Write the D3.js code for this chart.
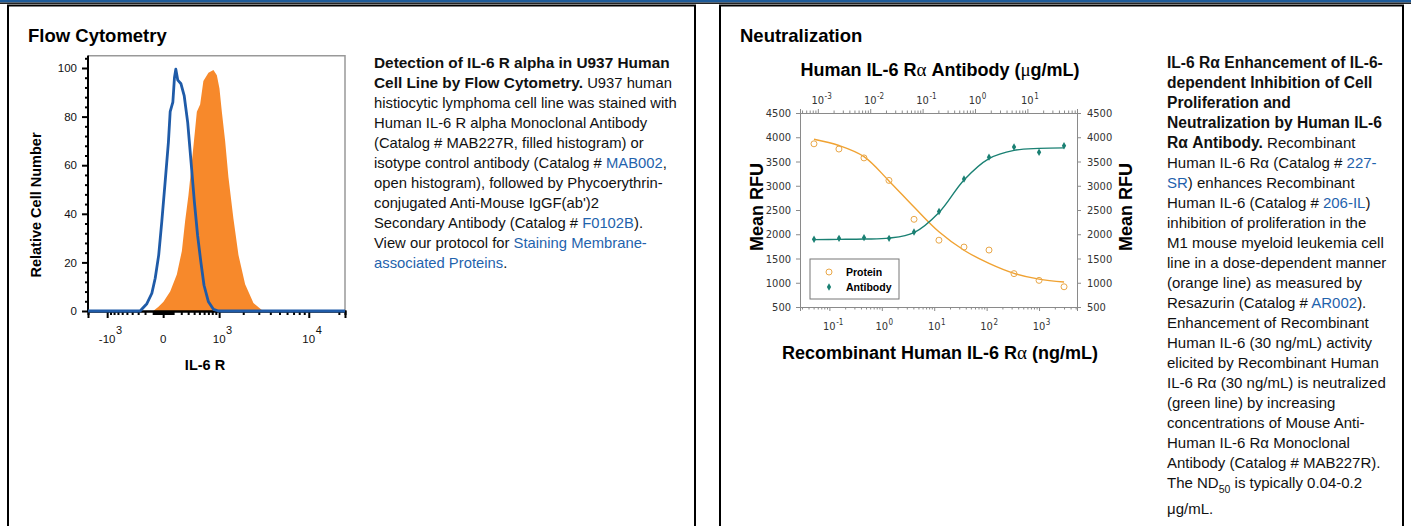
<!DOCTYPE html>
<html>
<head>
<meta charset="utf-8">
<script src="https://cdn.jsdelivr.net/npm/d3@7"></script>
<style>
  body { margin: 0; background: #fff; }
  svg { display: block; font-family: "Liberation Sans", Arial, sans-serif; }
  text { white-space: pre; }
  .narrow { font-family: "Liberation Sans Narrow", "DejaVu Sans Condensed", "Arial Narrow", sans-serif; fill: #333; }
</style>
</head>
<body>
<div id="chart"></div>
<script>
// ---------- Flow cytometry data (fluorescence intensity, relative cell number) ----------
const isotypeX = [-1750, -270, -176, -115, -78, -42, -12, 18, 50, 68, 97, 115, 131, 155, 196, 241, 293, 348, 404, 465, 531, 598, 702, 832, 980, 23000];
const isotypeY = [0, 0, 3, 7.3, 13.5, 23, 37, 53, 69.5, 82, 86, 96, 99.5, 95, 93.5, 88.5, 77.5, 61, 45, 31, 20, 10.6, 3.8, 0.7, 0, 0];
const stainedX = [-1750, -100, -44, 3, 68, 143, 208, 254, 305, 359, 419, 450, 515, 584, 702, 832, 930, 1010, 1087, 1201, 1324, 1528, 1757, 2104, 2616, 3239, 3800, 23000];
const stainedY = [0, 0, 1.8, 3.8, 8, 15, 24.7, 37, 47.7, 61, 75, 82, 85, 94.7, 98, 99.2, 97, 91.6, 82, 70, 55, 38, 23, 11, 3.3, 0.4, 0, 0];
const flowYTicks = [0, 20, 40, 60, 80, 100];
const flowXTicks = [-1000, 0, 1000, 10000];
const flowXLabels = [["-10", "3"], ["0", ""], ["10", "3"], ["10", "4"]];

// ---------- Neutralization data ----------
const proteinConc = [0.0508, 0.152, 0.457, 1.37, 4.12, 12.3, 37.0, 111, 333, 1000, 3000];      // ng/mL
const proteinRFU = [3865, 3757, 3574, 3110, 2308, 1877, 1736, 1674, 1188, 1049, 917];
const proteinFit = [3960, 3830, 3600, 3100, 2560, 2050, 1670, 1400, 1195, 1075, 1015];
const antibodyConc = [0.000847, 0.00254, 0.00762, 0.0229, 0.0686, 0.206, 0.617, 1.85, 5.56, 16.7, 50]; // ug/mL
const antibodyRFU = [1895, 1915, 1930, 1915, 2045, 2470, 3140, 3590, 3800, 3690, 3825];
const antibodyFit = [1890, 1895, 1902, 1920, 2035, 2450, 3120, 3560, 3730, 3770, 3780];
const rfuTicks = [500, 1000, 1500, 2000, 2500, 3000, 3500, 4000, 4500];
const topExps = [-3, -2, -1, 0, 1];
const bottomExps = [-1, 0, 1, 2, 3];

// ---------- captions ----------
const flowCaption = [
  [["b", "Detection of IL-6 R alpha in U937 Human"]],
  [["b", "Cell Line by Flow Cytometry."], ["n", " U937 human"]],
  [["n", "histiocytic lymphoma cell line was stained with"]],
  [["n", "Human IL-6 R alpha Monoclonal Antibody"]],
  [["n", "(Catalog # MAB227R, filled histogram) or"]],
  [["n", "isotype control antibody (Catalog # "], ["a", "MAB002"], ["n", ","]],
  [["n", "open histogram), followed by Phycoerythrin-"]],
  [["n", "conjugated Anti-Mouse IgGF(ab')2"]],
  [["n", "Secondary Antibody (Catalog # "], ["a", "F0102B"], ["n", ")."]],
  [["n", "View our protocol for "], ["a", "Staining Membrane-"]],
  [["a", "associated Proteins"], ["n", "."]]
];
const neutCaption = [
  [["b", "IL-6 R\u03b1 Enhancement of IL-6-"]],
  [["b", "dependent Inhibition of Cell"]],
  [["b", "Proliferation and"]],
  [["b", "Neutralization by Human IL-6"]],
  [["b", "R\u03b1 Antibody."], ["n", " Recombinant"]],
  [["n", "Human IL-6 R\u03b1 (Catalog # "], ["a", "227-"]],
  [["a", "SR"], ["n", ") enhances Recombinant"]],
  [["n", "Human IL-6 (Catalog # "], ["a", "206-IL"], ["n", ")"]],
  [["n", "inhibition of proliferation in the"]],
  [["n", "M1 mouse myeloid leukemia cell"]],
  [["n", "line in a dose-dependent manner"]],
  [["n", "(orange line) as measured by"]],
  [["n", "Resazurin (Catalog # "], ["a", "AR002"], ["n", ")."]],
  [["n", "Enhancement of Recombinant"]],
  [["n", "Human IL-6 (30 ng/mL) activity"]],
  [["n", "elicited by Recombinant Human"]],
  [["n", "IL-6 R\u03b1 (30 ng/mL) is neutralized"]],
  [["n", "(green line) by increasing"]],
  [["n", "concentrations of Mouse Anti-"]],
  [["n", "Human IL-6 R\u03b1 Monoclonal"]],
  [["n", "Antibody (Catalog # MAB227R)."]],
  [["n", "The ND"], ["sub", "50"], ["n", " is typically 0.04-0.2"]],
  [["n", "\u03bcg/mL."]]
];

const W = 1411, H = 526;
const svg = d3.select("#chart").append("svg").attr("width", W).attr("height", H);

// header strip and panel frames
svg.append("rect").attr("x", 0).attr("y", 0).attr("width", W).attr("height", 2.5).attr("fill", "#1d5a98");
svg.append("rect").attr("x", 0).attr("y", 2.5).attr("width", W).attr("height", 1.5).attr("fill", "#222");
[[8, 687], [720, 683]].forEach(([x, w]) => {
  svg.append("rect").attr("x", x).attr("y", 5.5).attr("width", w).attr("height", 540)
    .attr("fill", "none").attr("stroke", "#000").attr("stroke-width", 2);
});

svg.append("text").attr("x", 28).attr("y", 42).style("font-size", "18.5px").style("font-weight", "bold").text("Flow Cytometry");
svg.append("text").attr("x", 740).attr("y", 42).style("font-size", "18.5px").style("font-weight", "bold").text("Neutralization");

// caption block: bold runs are set a touch larger, like the reference's wider bold face
function textBlock(x, y0, lh, lines, size, lastExtra) {
  const t = svg.append("text").style("font-size", size + "px").attr("fill", "#111");
  lines.forEach((segs, i) => {
    const y = y0 + i * lh + (i === lines.length - 1 ? lastExtra : 0);
    segs.forEach((s, j) => {
      const sp = t.append("tspan").text(s[1]);
      if (j === 0) sp.attr("x", x).attr("y", y);
      if (s[0] === "b") sp.style("font-weight", "bold").style("font-size", (size * 1.04) + "px");
      if (s[0] === "a") sp.attr("fill", "#1f63ad");
      if (s[0] === "sub") sp.attr("dy", 5).style("font-size", (size * 0.7) + "px");
      if (j > 0 && segs[j - 1][0] === "sub") sp.attr("dy", -5);
    });
  });
}
textBlock(374, 68, 20, flowCaption, 14.8, 0);
textBlock(1167, 68, 20, neutCaption, 15, 6);

// ================= Flow cytometry histogram =================
const fx = d3.scaleSymlog().constant(400).domain([-1750, 23000]).range([88, 345]);
const fy = d3.scaleLinear().domain([0, 100]).range([311, 68]);
const flow = svg.append("g");

flow.append("path")
  .datum(d3.zip(stainedX, stainedY))
  .attr("fill", "#f7892b")
  .attr("d", d3.area().x(d => fx(d[0])).y0(fy(0)).y1(d => fy(d[1])));

// plot frame (top + right)
flow.append("path")
  .attr("d", `M${fx.range()[0]},${fy(105)}H${fx.range()[1]}V${fy(0)}`)
  .attr("fill", "none").attr("stroke", "#999").attr("stroke-width", 1.5);

// y axis
const yMinor = d3.range(0, 105, 4).filter(v => v % 20 !== 0);
const yAxisG = flow.append("g").attr("transform", `translate(${fx.range()[0]},0)`)
  .call(d3.axisLeft(fy).tickValues(flowYTicks).tickSize(6).tickPadding(5).tickFormat(d3.format("d")));
yAxisG.append("g").call(d3.axisLeft(fy).tickValues(yMinor).tickSize(3).tickFormat(""));
yAxisG.selectAll(".domain").attr("d", `M0,${fy(105)}V${fy(0)}`);
yAxisG.selectAll("path, line").attr("stroke", "#000").attr("stroke-width", 2);
yAxisG.selectAll("text").style("font-size", "11.5px").style("font-family", "'Liberation Sans', Arial, sans-serif").attr("fill", "#111");

// x axis (biexponential)
const xMinor = [];
[10, 100].forEach(dec => d3.range(1, 10).forEach(k => { xMinor.push(k * dec); xMinor.push(-k * dec); }));
d3.range(2, 10).forEach(k => xMinor.push(k * 1000));
xMinor.push(20000);
const xAxisG = flow.append("g").attr("transform", `translate(0,${fy(0)})`)
  .call(d3.axisBottom(fx).tickValues(flowXTicks).tickSize(7).tickFormat(""));
xAxisG.append("g").call(d3.axisBottom(fx).tickValues(xMinor).tickSize(4).tickFormat(""));
xAxisG.selectAll("path, line").attr("stroke", "#000").attr("stroke-width", 2);

flowXTicks.forEach((v, i) => {
  const [base, exp] = flowXLabels[i];
  const bt = flow.append("text").attr("x", fx(v)).attr("y", 343).attr("text-anchor", "middle")
    .style("font-size", "11.5px").attr("fill", "#111").text(base);
  if (exp) {
    const w = bt.node().getComputedTextLength();
    flow.append("text").attr("x", fx(v) + w / 2 + 0.5).attr("y", 334)
      .style("font-size", "11px").attr("fill", "#111").text(exp);
  }
});

flow.append("path")
  .datum(d3.zip(isotypeX, isotypeY))
  .attr("fill", "none").attr("stroke", "#1f5ba8").attr("stroke-width", 2.8).attr("stroke-linejoin", "round")
  .attr("d", d3.line().x(d => fx(d[0])).y(d => fy(d[1])));

flow.append("text").attr("x", 205).attr("y", 370).attr("text-anchor", "middle")
  .style("font-size", "14.5px").style("font-weight", "bold").text("IL-6 R");
flow.append("text").attr("transform", "translate(41,205) rotate(-90)").attr("text-anchor", "middle")
  .style("font-size", "14.5px").style("font-weight", "bold").text("Relative Cell Number");

// ================= Neutralization dose-response =================
const nx = d3.scaleLog().domain([0.0275, 5300]).range([800, 1077]);
const nxTop = d3.scaleLog().domain([0.000457, 88.5]).range([800, 1077]);
const ny = d3.scaleLinear().domain([500, 4500]).range([307, 113]);
const neut = svg.append("g");
const axisGrey = "#8a8a8a";

function logMinor(scale) {
  const [a, b] = scale.domain();
  const out = [];
  for (let e = Math.floor(Math.log10(a)); e <= Math.ceil(Math.log10(b)); e++) {
    for (let k = 2; k <= 9; k++) {
      const v = k * Math.pow(10, e);
      if (v >= a && v <= b) out.push(v);
    }
  }
  return out;
}

function styleAxis(g) {
  g.selectAll("path, line").attr("stroke", axisGrey).attr("stroke-width", 1);
  g.selectAll("text").attr("class", "narrow").style("font-size", "11px");
}

// left / right RFU axes
const la = neut.append("g").attr("transform", `translate(${nx.range()[0]},0)`)
  .call(d3.axisLeft(ny).tickValues(rfuTicks).tickSize(4).tickPadding(5).tickFormat(d3.format("d")));
styleAxis(la);
const ra = neut.append("g").attr("transform", `translate(${nx.range()[1]},0)`)
  .call(d3.axisRight(ny).tickValues(rfuTicks).tickSize(4).tickPadding(6).tickFormat(d3.format("d")));
styleAxis(ra);

// bottom (protein, ng/mL) and top (antibody, ug/mL) log axes
const ba = neut.append("g").attr("transform", `translate(0,${ny(500)})`)
  .call(d3.axisBottom(nx).tickValues(bottomExps.map(e => Math.pow(10, e))).tickSize(4).tickFormat(""));
ba.append("g").call(d3.axisBottom(nx).tickValues(logMinor(nx)).tickSize(2.5).tickFormat(""));
styleAxis(ba);
const ta = neut.append("g").attr("transform", `translate(0,${ny(4500)})`)
  .call(d3.axisTop(nxTop).tickValues(topExps.map(e => Math.pow(10, e))).tickSize(4).tickFormat(""));
ta.append("g").call(d3.axisTop(nxTop).tickValues(logMinor(nxTop)).tickSize(2.5).tickFormat(""));
styleAxis(ta);

function powTick(scale, e, y) {
  const x = scale(Math.pow(10, e));
  const bt = neut.append("text").attr("class", "narrow").attr("x", x).attr("y", y)
    .attr("text-anchor", "middle").style("font-size", "11px").text("10");
  const w = bt.node().getComputedTextLength();
  neut.append("text").attr("class", "narrow").attr("x", x + w / 2 + 0.5).attr("y", y - 5)
    .style("font-size", "8px").text(String(e));
}
bottomExps.forEach(e => powTick(nx, e, 330));
topExps.forEach(e => powTick(nxTop, e, 104));

// fitted curves
const orange = "#f0a232", teal = "#1a8073";
neut.append("path").datum(d3.zip(proteinConc, proteinFit))
  .attr("fill", "none").attr("stroke", orange).attr("stroke-width", 1.4)
  .attr("d", d3.line().curve(d3.curveCatmullRom).x(d => nx(d[0])).y(d => ny(d[1])));
neut.append("path").datum(d3.zip(antibodyConc, antibodyFit))
  .attr("fill", "none").attr("stroke", teal).attr("stroke-width", 1.4)
  .attr("d", d3.line().curve(d3.curveCatmullRom).x(d => nxTop(d[0])).y(d => ny(d[1])));

// points
neut.selectAll(".prot").data(d3.zip(proteinConc, proteinRFU)).join("circle")
  .attr("cx", d => nx(d[0])).attr("cy", d => ny(d[1])).attr("r", 3)
  .attr("fill", "none").attr("stroke", "#e9a748").attr("stroke-width", 1);
const diamond = d3.symbol().type(d3.symbolDiamond).size(16);
neut.selectAll(".ab").data(d3.zip(antibodyConc, antibodyRFU)).join("path")
  .attr("transform", d => `translate(${nxTop(d[0])},${ny(d[1])})`)
  .attr("d", diamond).attr("fill", teal);

// legend
const lg = neut.append("g").attr("transform", "translate(810,259)");
lg.append("rect").attr("width", 89).attr("height", 40).attr("fill", "#fff").attr("stroke", "#777").attr("stroke-width", 1);
lg.append("circle").attr("cx", 19).attr("cy", 13).attr("r", 3).attr("fill", "none").attr("stroke", "#e9a748");
lg.append("path").attr("transform", "translate(19,28)").attr("d", diamond).attr("fill", teal);
lg.append("text").attr("x", 36).attr("y", 17).style("font-size", "10.5px").style("font-weight", "bold").text("Protein");
lg.append("text").attr("x", 36).attr("y", 32).style("font-size", "10.5px").style("font-weight", "bold").text("Antibody");

// titles
const greek = "'Liberation Serif', 'Times New Roman', serif";
const t1 = neut.append("text").attr("x", 940).attr("y", 76).attr("text-anchor", "middle").style("font-size", "18px").style("font-weight", "bold");
t1.append("tspan").text("Human IL-6 R");
t1.append("tspan").style("font-family", greek).style("font-weight", "normal").style("font-size", "19px").text("\u03b1");
t1.append("tspan").text(" Antibody (");
t1.append("tspan").style("font-family", greek).style("font-weight", "normal").style("font-size", "19px").text("\u03bc");
t1.append("tspan").text("g/mL)");

const t2 = neut.append("text").attr("x", 940).attr("y", 359).attr("text-anchor", "middle").style("font-size", "18px").style("font-weight", "bold");
t2.append("tspan").text("Recombinant Human IL-6 R");
t2.append("tspan").style("font-family", greek).style("font-weight", "normal").style("font-size", "19px").text("\u03b1");
t2.append("tspan").text(" (ng/mL)");

[763, 1132].forEach(x => {
  neut.append("text").attr("transform", `translate(${x},207) rotate(-90)`).attr("text-anchor", "middle")
    .style("font-size", "18px").style("font-weight", "bold").text("Mean RFU");
});
</script>
</body>
</html>
